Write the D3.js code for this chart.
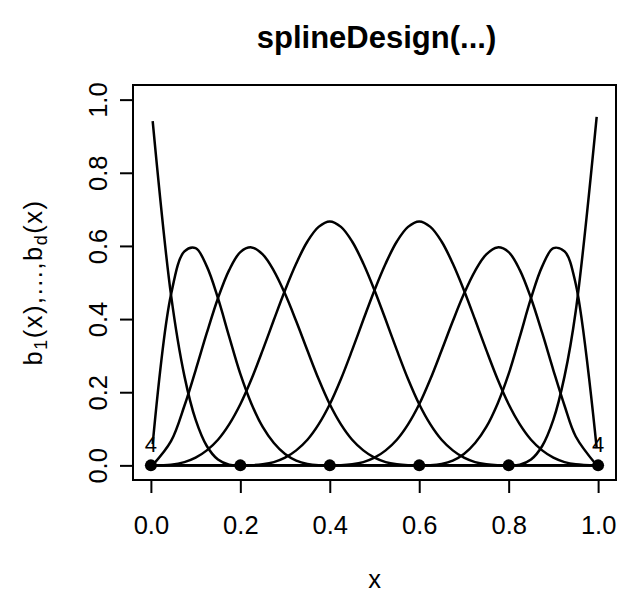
<!DOCTYPE html>
<html lang="en">
<head>
<meta charset="UTF-8">
<title>splineDesign</title>
<script src="https://d3js.org/d3.v7.min.js"></script>
<style>
  body { margin: 0; background: #fff; }
  svg text { font-family: "Liberation Sans", Arial, Helvetica, sans-serif; fill: #000; }
</style>
</head>
<body>
<div id="chart"></div>
<script>
// x positions where the basis functions were evaluated
const xs = [0.004, 0.045, 0.075, 0.1, 0.125, 0.15, 0.175, 0.2, 0.225, 0.25, 0.275, 0.3, 0.325,
            0.35, 0.375, 0.4, 0.425, 0.45, 0.475, 0.5, 0.525, 0.55, 0.575, 0.6, 0.625, 0.65,
            0.675, 0.7, 0.725, 0.75, 0.775, 0.8, 0.825, 0.85, 0.875, 0.9, 0.925, 0.95, 0.9968];

// b_1(x) ... b_8(x)
const b1 = [0.941, 0.466, 0.244, 0.125, 0.053, 0.016, 0.002, 0,
            0, 0, 0, 0, 0, 0, 0, 0, 0, 0, 0, 0, 0, 0, 0, 0, 0, 0, 0, 0, 0, 0, 0, 0, 0, 0, 0, 0, 0, 0, 0];
const b2 = [0.058, 0.467, 0.585, 0.594, 0.544, 0.457, 0.352, 0.25, 0.168, 0.105, 0.061, 0.031,
            0.013, 0.004, 0.0005, 0,
            0, 0, 0, 0, 0, 0, 0, 0, 0, 0, 0, 0, 0, 0, 0, 0, 0, 0, 0, 0, 0, 0, 0];
const b3 = [0.0006, 0.066, 0.163, 0.26, 0.362, 0.457, 0.534, 0.583, 0.596, 0.577, 0.532, 0.469,
            0.394, 0.314, 0.236, 0.167, 0.112, 0.07, 0.041, 0.021, 0.009, 0.003, 0.0003, 0,
            0, 0, 0, 0, 0, 0, 0, 0, 0, 0, 0, 0, 0, 0, 0];
const b4 = [0, 0.002, 0.009, 0.021, 0.041, 0.07, 0.112, 0.167, 0.236, 0.315, 0.398, 0.479,
            0.552, 0.612, 0.652, 0.667, 0.652, 0.612, 0.552, 0.479, 0.398, 0.315, 0.236, 0.167,
            0.112, 0.07, 0.041, 0.021, 0.009, 0.003, 0.0003, 0,
            0, 0, 0, 0, 0, 0, 0];
const b5 = [0, 0, 0, 0, 0, 0, 0, 0,
            0.0003, 0.003, 0.009, 0.021, 0.041, 0.07, 0.112, 0.167, 0.236, 0.315, 0.398, 0.479,
            0.552, 0.612, 0.652, 0.667, 0.652, 0.612, 0.552, 0.479, 0.398, 0.315, 0.236, 0.167,
            0.112, 0.07, 0.041, 0.021, 0.009, 0.003, 0];
const b6 = [0, 0, 0, 0, 0, 0, 0, 0, 0, 0, 0, 0, 0, 0, 0, 0,
            0.0003, 0.003, 0.009, 0.021, 0.041, 0.07, 0.112, 0.167, 0.236, 0.314, 0.394, 0.469,
            0.532, 0.577, 0.596, 0.583, 0.534, 0.457, 0.362, 0.26, 0.163, 0.079, 0.0004];
const b7 = [0, 0, 0, 0, 0, 0, 0, 0, 0, 0, 0, 0, 0, 0, 0, 0, 0, 0, 0, 0, 0, 0, 0, 0,
            0.0005, 0.004, 0.013, 0.031, 0.061, 0.105, 0.168, 0.25, 0.352, 0.457, 0.544, 0.594,
            0.585, 0.496, 0.047];
const b8 = [0, 0, 0, 0, 0, 0, 0, 0, 0, 0, 0, 0, 0, 0, 0, 0, 0, 0, 0, 0, 0, 0, 0, 0, 0, 0, 0, 0,
            0, 0, 0, 0,
            0.002, 0.016, 0.053, 0.125, 0.244, 0.422, 0.953];

const basis = [b1, b2, b3, b4, b5, b6, b7, b8];

const knots = [0, 0.2, 0.4, 0.6, 0.8, 1];
const knotMult = [4, 1, 1, 1, 1, 4];
const xTicks = [0, 0.2, 0.4, 0.6, 0.8, 1];
const yTicks = [0, 0.2, 0.4, 0.6, 0.8, 1];

const W = 617, H = 595;
const box = {left: 133, top: 85, right: 616, bottom: 480};

const svg = d3.select("#chart")
  .append("svg")
  .attr("width", W)
  .attr("height", H);

const x = d3.scaleLinear().domain([-0.04, 1.04]).range([box.left, box.right]);
const y = d3.scaleLinear().domain([-0.04, 1.04]).range([box.bottom, box.top]);

// title
svg.append("text")
   .attr("x", (box.left + box.right) / 2 + 2)
   .attr("y", 48)
   .attr("text-anchor", "middle")
   .style("font-size", "31px")
   .style("font-weight", "bold")
   .text("splineDesign(...)");

// x axis
const gx = svg.append("g")
   .attr("transform", `translate(0,${box.bottom})`)
   .call(d3.axisBottom(x).tickValues(xTicks).tickSize(13).tickSizeOuter(0).tickFormat(d3.format(".1f")));
gx.select(".domain").remove();
gx.selectAll("line").attr("stroke", "#000").attr("stroke-width", 2);
gx.selectAll("text")
  .attr("y", 54).attr("dy", null)
  .style("font-size", "25.5px");

// y axis
const gy = svg.append("g")
   .attr("transform", `translate(${box.left},0)`)
   .call(d3.axisLeft(y).tickValues(yTicks).tickSize(13).tickSizeOuter(0).tickFormat(d3.format(".1f")));
gy.select(".domain").remove();
gy.selectAll("line").attr("stroke", "#000").attr("stroke-width", 2);
gy.selectAll("text")
  .attr("x", null).attr("dy", null)
  .attr("transform", "translate(-26,0) rotate(-90)")
  .attr("text-anchor", "middle")
  .style("font-size", "25.5px");

// axis titles
svg.append("text")
   .attr("x", (box.left + box.right) / 2)
   .attr("y", 588)
   .attr("text-anchor", "middle")
   .style("font-size", "25.5px")
   .text("x");

const ylab = svg.append("text")
   .attr("transform", `translate(42,${(box.top + box.bottom) / 2}) rotate(-90)`)
   .attr("text-anchor", "middle")
   .style("font-size", "25.5px")
   .style("letter-spacing", "1.5px");
ylab.append("tspan").text("b");
ylab.append("tspan").attr("baseline-shift", "-25%").style("font-size", "18px").text("1");
ylab.append("tspan").text("(x),...,b");
ylab.append("tspan").attr("baseline-shift", "-25%").style("font-size", "18px").text("d");
ylab.append("tspan").text("(x)");

// basis curves
const line = d3.line()
  .x((d, i) => x(xs[i]))
  .y(d => y(d))
  .curve(d3.curveCatmullRom.alpha(0.5));

svg.append("g")
   .selectAll("path")
   .data(basis)
   .enter()
   .append("path")
   .attr("d", line)
   .attr("fill", "none")
   .attr("stroke", "#000")
   .attr("stroke-width", 2.5);

// knots
svg.append("g")
   .selectAll("circle")
   .data(knots)
   .enter()
   .append("circle")
   .attr("cx", d => x(d))
   .attr("cy", y(0))
   .attr("r", 6)
   .attr("fill", "#000");

svg.append("g")
   .selectAll("text")
   .data(knots.filter((k, i) => knotMult[i] > 1))
   .enter()
   .append("text")
   .attr("x", d => x(d))
   .attr("y", 452)
   .attr("text-anchor", "middle")
   .style("font-size", "22px")
   .text(d => knotMult[knots.indexOf(d)]);

// plot box
svg.append("rect")
   .attr("x", box.left)
   .attr("y", box.top)
   .attr("width", box.right - box.left)
   .attr("height", box.bottom - box.top)
   .attr("fill", "none")
   .attr("stroke", "#000")
   .attr("stroke-width", 2);
</script>
</body>
</html>
